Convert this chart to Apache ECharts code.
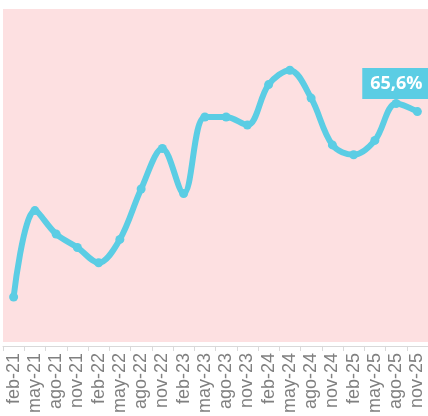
<!DOCTYPE html>
<html>
<head>
<meta charset="utf-8">
<script src="https://cdn.jsdelivr.net/npm/echarts@6/dist/echarts.min.js"></script>
<style>
  html, body { margin: 0; padding: 0; background: #ffffff; }
  #chart { width: 428px; height: 416px; }
</style>
</head>
<body>
<div id="chart"></div>
<script>
// trimestres
const meses = ['feb-21', 'may-21', 'ago-21', 'nov-21', 'feb-22', 'may-22', 'ago-22', 'nov-22',
  'feb-23', 'may-23', 'ago-23', 'nov-23', 'feb-24', 'may-24', 'ago-24', 'nov-24',
  'feb-25', 'may-25', 'ago-25', 'nov-25'];
// valores en %
const valores = [45.0, 54.6, 52.0, 50.5, 48.8, 51.4, 57.0, 61.5,
  56.5, 65.0, 65.0, 64.1, 68.6, 70.2, 67.1, 61.9,
  60.8, 62.4, 66.5, 65.6];

const chartInstance = echarts.init(document.getElementById('chart'));

const ultimo = valores.length - 1;

const option = {
  animation: false,
  grid: {
    left: 3,
    right: -2,
    top: 9,
    bottom: 71,
    show: true,
    backgroundColor: '#fde0e1',
    borderWidth: 0
  },
  xAxis: {
    type: 'category',
    data: meses,
    boundaryGap: true,
    offset: 4,
    axisLine: {
      lineStyle: { color: '#d9d9d9', width: 1 }
    },
    axisTick: {
      show: true,
      length: 5,
      lineStyle: { color: '#d9d9d9' }
    },
    axisLabel: {
      rotate: 90,
      margin: 7,
      fontSize: 18,
      color: '#808080',
      fontFamily: 'Liberation Sans, Arial, sans-serif',
      interval: 0
    },
    splitLine: { show: false }
  },
  yAxis: {
    type: 'value',
    min: 40,
    max: 77,
    show: false,
    splitLine: { show: false }
  },
  series: [
    {
      type: 'line',
      data: valores.map((v, i) => i === ultimo ? {
        value: v,
        label: {
          show: true,
          position: 'top',
          offset: [-21, -3],
          formatter: (p) => p.value.toFixed(1).replace('.', ',') + '%',
          backgroundColor: '#5bcde4',
          color: '#ffffff',
          fontWeight: 'bold',
          fontSize: 18,
          fontFamily: 'Open Sans, sans-serif',
          padding: [7, 8, 6, 8]
        }
      } : v),
      smooth: 0.35,
      symbol: 'circle',
      symbolSize: 9,
      lineStyle: { color: '#5bcde4', width: 6 },
      itemStyle: { color: '#5bcde4' }
    }
  ]
};

chartInstance.setOption(option);
</script>
</body>
</html>
